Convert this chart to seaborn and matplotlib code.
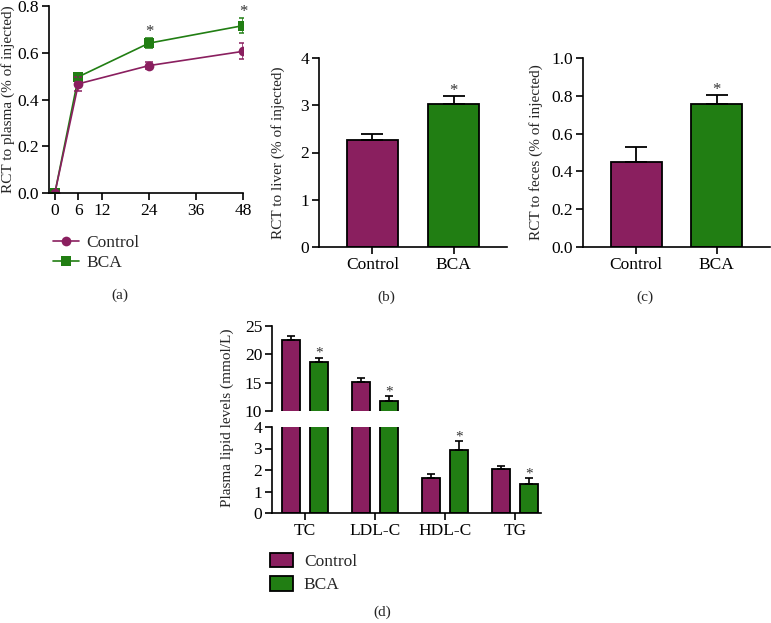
import matplotlib
matplotlib.use("Agg")
import matplotlib.pyplot as plt
import seaborn as sns
import pandas as pd
from matplotlib.lines import Line2D
from matplotlib.patches import Patch

# ---- data ----
groups = ["Control", "BCA"]
colors = {"Control": "#8A1F5F", "BCA": "#217E13"}

# (a) RCT to plasma over time
hours = [0, 6, 24, 48]
plasma_ctrl = [0.0, 0.467, 0.545, 0.606]
plasma_ctrl_err = [0.0, 0.030, 0.016, 0.034]
plasma_bca = [0.0, 0.497, 0.641, 0.716]
plasma_bca_err = [0.0, 0.014, 0.022, 0.032]
plasma_sig_idx = [2, 3]

# (b) RCT to liver, (c) RCT to feces
liver = [2.27, 3.02]
liver_err = [0.12, 0.17]
feces = [0.451, 0.759]
feces_err = [0.078, 0.045]

# (d) plasma lipids
lipids = ["TC", "LDL-C", "HDL-C", "TG"]
lipid_ctrl = [22.45, 15.05, 1.65, 2.04]
lipid_ctrl_err = [0.78, 0.70, 0.16, 0.14]
lipid_bca = [18.65, 11.80, 2.94, 1.34]
lipid_bca_err = [0.78, 0.82, 0.39, 0.28]

sns.set_theme(style="ticks")
plt.rcParams["font.family"] = ["Liberation Serif", "DejaVu Serif"]
plt.rcParams["axes.linewidth"] = 1.2
plt.rcParams["xtick.major.width"] = 1.2
plt.rcParams["ytick.major.width"] = 1.2
plt.rcParams["xtick.major.size"] = 5
plt.rcParams["ytick.major.size"] = 5
plt.rcParams["xtick.color"] = "black"
plt.rcParams["ytick.color"] = "black"
plt.rcParams["axes.edgecolor"] = "black"
FS = 12.5   # tick / legend text
LFS = 11    # axis labels

W, H = 771, 623
fig = plt.figure(figsize=(W / 100, H / 100), dpi=100)


def rect(x0, y0, x1, y1):
    # pixel box (top-left origin) -> figure coords
    return [x0 / W, 1 - y1 / H, (x1 - x0) / W, (y1 - y0) / H]


ax_a = fig.add_axes(rect(49, 6, 243, 193))
ax_b = fig.add_axes(rect(319, 58, 507, 247))
ax_c = fig.add_axes(rect(583, 58, 770, 247))
ax_d1 = fig.add_axes(rect(272, 326, 541, 411))
ax_d2 = fig.add_axes(rect(272, 427, 541, 513))


def style_ax(ax):
    sns.despine(ax=ax)
    ax.tick_params(labelsize=FS, pad=2)
    ax.set_xlabel("")


def star(ax, x, y, size=12):
    ax.text(x, y, "*", ha="center", va="bottom", fontsize=size, color="#333333")


# ---- (a) ----
df_a = pd.DataFrame({
    "hours": hours * 2,
    "value": plasma_ctrl + plasma_bca,
    "group": ["Control"] * len(hours) + ["BCA"] * len(hours),
})
sns.lineplot(data=df_a, x="hours", y="value", hue="group", style="group",
             markers={"Control": "o", "BCA": "s"}, dashes=False,
             palette=colors, markersize=7, linewidth=1.2, markeredgewidth=0,
             ax=ax_a, legend=False, hue_order=["BCA", "Control"])
ax_a.errorbar(hours, plasma_ctrl, yerr=plasma_ctrl_err, fmt="none",
              ecolor=colors["Control"], capsize=3, elinewidth=1.1, capthick=1.1)
ax_a.errorbar(hours, plasma_bca, yerr=plasma_bca_err, fmt="none",
              ecolor=colors["BCA"], capsize=3, elinewidth=1.1, capthick=1.1)
for i in plasma_sig_idx:
    star(ax_a, hours[i], plasma_bca[i] + plasma_bca_err[i] - 0.008)
ax_a.set_xlim(-1.5, 48)
ax_a.set_ylim(0, 0.8)
ax_a.set_xticks([0, 6, 12, 24, 36, 48])
ax_a.set_yticks([0.0, 0.2, 0.4, 0.6, 0.8])
ax_a.set_yticklabels(["0.0", "0.2", "0.4", "0.6", "0.8"])
style_ax(ax_a)
ax_a.set_ylabel("RCT to plasma (% of injected)", fontsize=LFS)
ax_a.yaxis.set_label_coords(-0.175, 0.5)
handles_a = [
    Line2D([], [], color=colors["Control"], marker="o", markersize=7, lw=1.2, markeredgewidth=0),
    Line2D([], [], color=colors["BCA"], marker="s", markersize=7, lw=1.2, markeredgewidth=0),
]
ax_a.legend(handles_a, groups, loc="upper left", bbox_to_anchor=(53 / W, 1 - 235 / H),
            bbox_transform=fig.transFigure, frameon=False, fontsize=FS,
            handlelength=1.5, handletextpad=0.4, labelspacing=0.2, borderpad=0,
            borderaxespad=0)


# ---- (b), (c) ----
def two_bar(ax, vals, errs, ylim, yticks, ylabel, label_x, ticklabels=None):
    df = pd.DataFrame({"group": groups, "value": vals})
    sns.barplot(data=df, x="group", y="value", hue="group", palette=colors,
                width=0.63, edgecolor="black", linewidth=1.3, ax=ax, legend=False,
                saturation=1)
    ax.errorbar(range(len(vals)), vals, yerr=[[0] * len(vals), errs], fmt="none",
                ecolor="black", capsize=8, elinewidth=1.3, capthick=1.3)
    star(ax, 1, vals[1] + errs[1] - ylim[1] * 0.015)
    ax.set_xlim(-0.66, 1.66)
    ax.set_ylim(*ylim)
    ax.set_yticks(yticks)
    if ticklabels:
        ax.set_yticklabels(ticklabels)
    style_ax(ax)
    ax.set_ylabel(ylabel, fontsize=LFS)
    ax.yaxis.set_label_coords(label_x, 0.5)


two_bar(ax_b, liver, liver_err, (0, 4), [0, 1, 2, 3, 4],
        "RCT to liver (% of injected)", -0.18)
two_bar(ax_c, feces, feces_err, (0, 1.0), [0, 0.2, 0.4, 0.6, 0.8, 1.0],
        "RCT to feces (% of injected)", -0.214,
        ["0.0", "0.2", "0.4", "0.6", "0.8", "1.0"])

# ---- (d) broken axis ----
df_d = pd.DataFrame({
    "lipid": lipids * 2,
    "value": lipid_ctrl + lipid_bca,
    "group": ["Control"] * len(lipids) + ["BCA"] * len(lipids),
})
for ax in (ax_d1, ax_d2):
    sns.barplot(data=df_d, x="lipid", y="value", hue="group", palette=colors,
                hue_order=groups, width=0.8, gap=0.35, edgecolor="black",
                linewidth=1.3, ax=ax, legend=False, saturation=1)
    xs = range(len(lipids))
    ax.errorbar([x - 0.2 for x in xs], lipid_ctrl, yerr=[[0] * 4, lipid_ctrl_err],
                fmt="none", ecolor="black", capsize=3, elinewidth=1.2, capthick=1.2)
    ax.errorbar([x + 0.2 for x in xs], lipid_bca, yerr=[[0] * 4, lipid_bca_err],
                fmt="none", ecolor="black", capsize=3, elinewidth=1.2, capthick=1.2)
    ax.set_xlim(-0.47, 3.37)
    style_ax(ax)
    ax.set_ylabel("")

ax_d1.set_ylim(10, 25)
ax_d1.set_yticks([10, 15, 20, 25])
ax_d1.spines["bottom"].set_visible(False)
ax_d1.tick_params(axis="x", bottom=False, labelbottom=False)
ax_d2.set_ylim(0, 4)
ax_d2.set_yticks([0, 1, 2, 3, 4])
ax_d2.set_xticks(range(len(lipids)))
ax_d2.set_xticklabels(lipids)
for i in range(len(lipids)):
    top = lipid_bca[i] + lipid_bca_err[i]
    if top > 10:
        star(ax_d1, i + 0.2, top - 0.35, size=11)
    else:
        star(ax_d2, i + 0.2, top - 0.09, size=11)

fig.text(234 / W, 1 - 418 / H, "Plasma lipid levels (mmol/L)", rotation=90,
         ha="right", va="center", fontsize=LFS)
handles_d = [Patch(facecolor=colors[g], edgecolor="black", linewidth=1.3) for g in groups]
ax_d2.legend(handles_d, groups, loc="upper left", bbox_to_anchor=(270 / W, 1 - 553 / H),
             bbox_transform=fig.transFigure, frameon=False, fontsize=FS,
             handlelength=1.3, handleheight=0.9, handletextpad=0.65,
             labelspacing=0.35, borderpad=0, borderaxespad=0)

# ---- panel labels ----
for x, y, lab in [(120, 295, "(a)"), (386, 297, "(b)"), (645, 297, "(c)"), (382, 612, "(d)")]:
    fig.text(x / W, 1 - y / H, lab, ha="center", va="center", fontsize=LFS)

fig.savefig("out.png", dpi=100)
